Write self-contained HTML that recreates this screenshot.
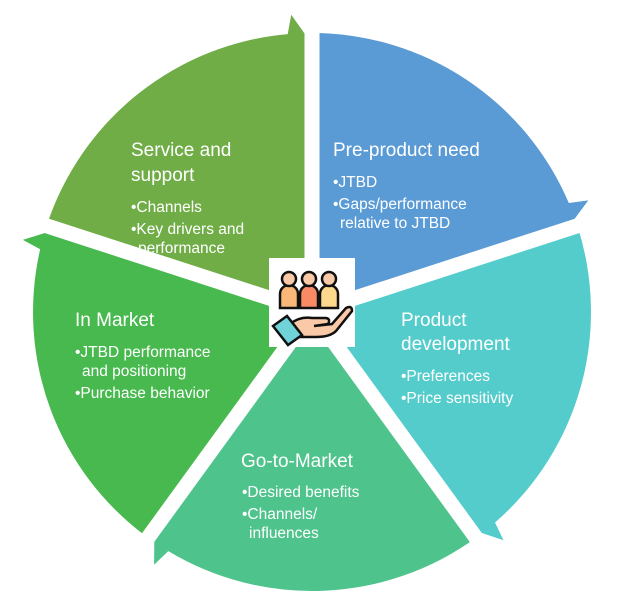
<!DOCTYPE html>
<html><head><meta charset="utf-8"><style>
html,body{margin:0;padding:0;background:#fff;overflow:hidden;width:623px;height:597px;}
svg{display:block;}
text{font-family:"Liberation Sans",sans-serif;fill:#fff;}
.h{font-size:19px;}
.b{font-size:15.5px;}
</style></head><body>
<svg width="623" height="597" viewBox="0 0 623 597" xmlns="http://www.w3.org/2000/svg">
<defs>
<path id="w" d="M312,312 L312,33 A279,279 0 0 1 568.8,203 L588.3,200.4 L566.9,229.2 Z"/>
</defs>
<use href="#w" fill="#5b9bd5"/>
<use href="#w" fill="#55cccc" transform="rotate(72 312 312)"/>
<use href="#w" fill="#4ec48c" transform="rotate(144 312 312)"/>
<use href="#w" fill="#47b94e" transform="rotate(216 312 312)"/>
<use href="#w" fill="#70ad47" transform="rotate(288 312 312)"/>
<g stroke="#fff" stroke-width="15">
<line x1="312" y1="312" x2="312" y2="0"/>
<line x1="312" y1="312" x2="312" y2="0" transform="rotate(72 312 312)"/>
<line x1="312" y1="312" x2="312" y2="0" transform="rotate(144 312 312)"/>
<line x1="312" y1="312" x2="312" y2="0" transform="rotate(216 312 312)"/>
<line x1="312" y1="312" x2="312" y2="0" transform="rotate(288 312 312)"/>
</g>
<rect x="269" y="258" width="86" height="89" fill="#fff"/>
<g stroke="#111" stroke-width="2.5">
<path d="M280,308 v-14 a9,9 0 0 1 18,0 v14 z" fill="#f9b878"/>
<path d="M300,308 v-14 a9,9 0 0 1 18,0 v14 z" fill="#f88a66"/>
<path d="M320,308 v-14 a9,9 0 0 1 18,0 v14 z" fill="#fcd98c"/>
<circle cx="289" cy="279" r="7" fill="#f9c9a8"/>
<circle cx="309" cy="279" r="7" fill="#f9c9a8"/>
<circle cx="329" cy="279" r="7" fill="#f9c9a8"/>
<path d="M290,324 q10,-8 22,-6 h14 q5,1 2,6 l-14,2 l18,-2 l14,-16 q6,-3 6,3 l-16,20 q-6,6 -20,6 h-16 z" fill="#f9c9a8"/>
<path d="M273,326 l14,-10 l15,19 l-14,10 z" fill="#6fd3d8"/>
</g>
<text class="h" x="131" y="156">Service and</text>
<text class="h" x="131" y="181">support</text>
<text class="b" x="131" y="212">•Channels</text>
<text class="b" x="131" y="234">•Key drivers and</text>
<text class="b" x="138" y="253">performance</text>
<text class="h" x="333" y="156">Pre-product need</text>
<text class="b" x="333" y="187">•JTBD</text>
<text class="b" x="333" y="209">•Gaps/performance</text>
<text class="b" x="340" y="228">relative to JTBD</text>
<text class="h" x="75" y="326">In Market</text>
<text class="b" x="75" y="357">•JTBD performance</text>
<text class="b" x="82" y="376">and positioning</text>
<text class="b" x="75" y="398">•Purchase behavior</text>
<text class="h" x="401" y="326">Product</text>
<text class="h" x="401" y="350">development</text>
<text class="b" x="401" y="381">•Preferences</text>
<text class="b" x="401" y="403">•Price sensitivity</text>
<text class="h" x="241" y="467">Go-to-Market</text>
<text class="b" x="242" y="497">•Desired benefits</text>
<text class="b" x="242" y="519">•Channels/</text>
<text class="b" x="249" y="538">influences</text>
</svg>
</body></html>
